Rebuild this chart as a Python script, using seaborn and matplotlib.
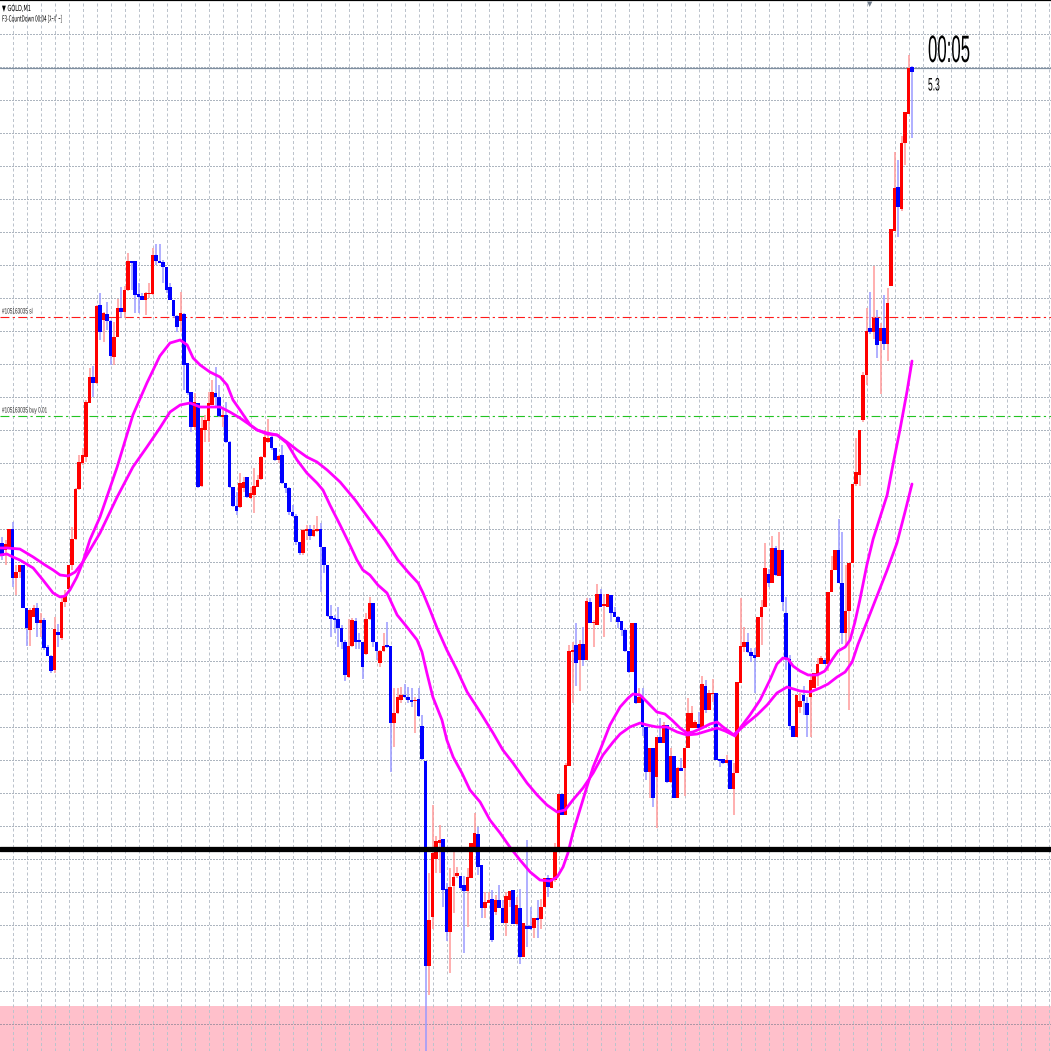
import numpy as np
import pandas as pd
import matplotlib
matplotlib.use("Agg")
import matplotlib.pyplot as plt
import seaborn as sns
from matplotlib import patheffects
from matplotlib.transforms import Affine2D

# ---------------- data (price axis is in chart rows, top = high) ----------------
opens = [
    543, 550, 548, 529, 578, 572, 565, 608, 630, 617,
    608, 623, 620, 647, 656, 670, 632, 638, 602, 589,
    565, 539, 489, 463, 457, 403, 377, 383, 305, 320,
    314, 321, 357, 337, 308, 312, 290, 261, 261, 294,
    296, 300, 294, 294, 255, 261, 262, 267, 287, 300,
    316, 321, 314, 363, 392, 427, 403, 486, 430, 421,
    405, 393, 397, 417, 415, 442, 487, 506, 507, 488,
    477, 498, 495, 487, 479, 457, 442, 437, 448, 460,
    455, 483, 488, 512, 516, 542, 553, 531, 529, 536,
    531, 529, 547, 565, 616, 618, 619, 628, 642, 677,
    646, 621, 640, 642, 654, 619, 603, 642, 663, 651,
    645, 646, 723, 713, 700, 695, 697, 700, 701, 699,
    726, 761, 966, 917, 859, 843, 839, 889, 932, 886,
    876, 876, 885, 891, 878, 847, 834, 865, 908, 903,
    899, 912, 900, 908, 923, 900, 890, 924, 908, 957,
    926, 926, 928, 918, 919, 907, 878, 888, 880, 847,
    794, 815, 766, 652, 645, 660, 644, 660, 602, 623,
    625, 594, 606, 607, 595, 612, 617, 621, 630, 651,
    672, 623, 703, 697, 727, 772, 748, 777, 737, 743,
    725, 782, 756, 798, 768, 768, 748, 728, 728, 724,
    728, 686, 710, 694, 693, 759, 759, 763, 760, 789,
    773, 683, 647, 642, 652, 655, 657, 617, 607, 574,
    583, 548, 576, 550, 613, 659, 726, 737, 707, 695,
    703, 697, 688, 675, 664, 660, 664, 592, 570, 550,
    583, 633, 611, 563, 484, 475, 420, 375, 328, 332,
    318, 341, 328, 344, 286, 231, 187, 209, 143, 114,
    67,
]
highs = [
    537, 540, 529, 522, 565, 565, 565, 608, 608, 605,
    603, 613, 618, 645, 655, 617, 624, 597, 590, 565,
    527, 488, 455, 448, 400, 368, 366, 305, 293, 312,
    302, 320, 322, 299, 287, 286, 253, 261, 261, 283,
    293, 292, 283, 248, 244, 244, 260, 267, 283, 300,
    315, 292, 313, 363, 392, 393, 403, 417, 415, 392,
    380, 367, 385, 410, 402, 441, 487, 492, 473, 477,
    477, 487, 468, 475, 456, 430, 419, 436, 448, 455,
    445, 483, 487, 505, 514, 542, 529, 525, 525, 525,
    516, 523, 547, 565, 605, 615, 607, 625, 640, 619,
    618, 618, 633, 642, 613, 597, 603, 642, 650, 633,
    622, 646, 688, 688, 687, 684, 687, 688, 697, 688,
    715, 761, 873, 805, 836, 825, 839, 883, 868, 852,
    867, 876, 876, 868, 843, 813, 827, 865, 892, 892,
    890, 895, 885, 900, 892, 891, 890, 897, 889, 923,
    840, 907, 918, 900, 899, 878, 875, 878, 843, 794,
    794, 763, 645, 642, 623, 640, 627, 598, 598, 620,
    584, 589, 594, 594, 595, 607, 616, 621, 628, 651,
    623, 623, 688, 688, 727, 748, 748, 737, 718, 722,
    725, 748, 756, 767, 758, 748, 698, 706, 720, 712,
    676, 680, 690, 679, 693, 759, 759, 755, 760, 763,
    682, 598, 627, 633, 648, 648, 617, 600, 543, 569,
    536, 546, 532, 550, 597, 655, 726, 695, 693, 686,
    697, 675, 673, 658, 656, 658, 592, 556, 550, 519,
    532, 565, 563, 484, 438, 430, 372, 308, 292, 266,
    310, 323, 295, 288, 229, 152, 160, 136, 112, 55,
    66,
]
lows = [
    560, 565, 549, 587, 595, 578, 608, 646, 646, 617,
    637, 637, 650, 656, 673, 673, 647, 640, 607, 590,
    570, 540, 490, 465, 462, 403, 397, 384, 340, 342,
    330, 365, 365, 337, 318, 318, 291, 290, 313, 313,
    300, 315, 298, 295, 265, 262, 283, 293, 300, 318,
    332, 332, 390, 395, 432, 430, 488, 487, 442, 442,
    405, 407, 417, 427, 443, 488, 507, 515, 508, 492,
    498, 499, 513, 487, 480, 458, 443, 450, 461, 463,
    484, 493, 515, 517, 545, 555, 555, 540, 540, 537,
    532, 592, 573, 617, 637, 633, 647, 649, 681, 678,
    647, 649, 649, 679, 655, 620, 647, 660, 667, 652,
    648, 772, 747, 714, 703, 698, 703, 707, 733, 717,
    760, 1051, 995, 929, 873, 873, 907, 941, 973, 913,
    878, 890, 953, 927, 878, 850, 875, 918, 918, 903,
    942, 915, 908, 923, 936, 907, 924, 925, 964, 957,
    947, 930, 938, 938, 929, 907, 897, 888, 882, 847,
    815, 815, 766, 703, 686, 691, 666, 660, 623, 647,
    625, 607, 637, 607, 622, 617, 628, 636, 652, 673,
    672, 704, 703, 736, 780, 798, 807, 828, 743, 743,
    783, 783, 798, 798, 771, 796, 748, 728, 728, 728,
    728, 713, 710, 702, 760, 767, 764, 763, 789, 815,
    773, 683, 652, 653, 662, 693, 657, 645, 607, 587,
    583, 576, 576, 611, 670, 730, 737, 737, 713, 715,
    737, 737, 688, 686, 664, 664, 671, 592, 570, 583,
    644, 647, 710, 563, 486, 486, 422, 385, 334, 339,
    358, 394, 350, 361, 286, 231, 237, 211, 165, 114,
    138,
]
closes = [
    556, 544, 529, 578, 572, 565, 608, 628, 610, 608,
    623, 620, 648, 656, 671, 629, 635, 602, 595, 565,
    539, 489, 462, 455, 402, 377, 383, 306, 332, 313,
    321, 356, 337, 308, 312, 290, 261, 263, 295, 297,
    300, 293, 293, 255, 261, 262, 267, 290, 300, 316,
    327, 313, 365, 393, 427, 402, 487, 428, 420, 403,
    392, 397, 416, 415, 442, 487, 506, 511, 483, 482,
    497, 493, 486, 480, 457, 437, 438, 448, 460, 456,
    483, 488, 512, 516, 542, 553, 530, 529, 536, 530,
    529, 547, 565, 616, 619, 620, 628, 642, 675, 646,
    620, 642, 642, 667, 619, 603, 642, 651, 651, 646,
    647, 723, 713, 697, 695, 697, 700, 702, 700, 716,
    759, 966, 920, 853, 841, 840, 890, 932, 887, 877,
    873, 888, 891, 877, 843, 833, 867, 908, 902, 900,
    940, 900, 908, 923, 896, 891, 924, 905, 957, 923,
    929, 929, 918, 919, 907, 878, 887, 878, 848, 794,
    815, 765, 651, 650, 663, 644, 660, 601, 623, 622,
    594, 607, 604, 594, 613, 617, 622, 630, 651, 672,
    623, 703, 697, 727, 772, 748, 798, 737, 743, 725,
    782, 756, 798, 768, 771, 748, 713, 713, 722, 728,
    684, 710, 693, 693, 760, 761, 763, 760, 789, 773,
    682, 646, 642, 652, 656, 658, 617, 607, 568, 583,
    548, 575, 550, 602, 659, 726, 737, 695, 701, 701,
    715, 680, 673, 664, 658, 664, 592, 570, 550, 583,
    633, 611, 563, 484, 472, 430, 375, 331, 332, 318,
    345, 328, 344, 303, 229, 188, 207, 143, 112, 68,
    72,
]

# moving averages: (bar position, value)
ma_fast_points = [
    (-0.6, 555), (1.4, 554), (3.1, 557), (5.1, 560), (8.9, 568), (11.7, 580),
    (14.6, 593), (16.6, 597), (18.0, 596), (19.4, 590), (21.4, 577), (23.1, 562),
    (25.1, 540), (28.0, 517), (32.9, 467), (37.4, 415), (41.4, 383), (45.1, 356),
    (48.0, 343), (50.9, 340), (52.9, 345), (54.6, 358), (56.6, 365), (59.4, 372),
    (62.3, 377), (64.3, 385), (66.0, 400), (68.0, 410), (70.9, 425), (72.9, 430),
    (75.7, 433), (78.6, 435), (81.4, 443), (84.3, 460), (87.1, 473), (90.0, 483),
    (91.7, 490), (93.7, 505), (96.6, 525), (99.4, 545), (101.4, 560), (103.1, 570),
    (105.1, 575), (107.4, 585), (110.0, 593), (112.9, 615), (115.7, 627), (118.6, 640),
    (120.0, 652), (121.4, 673), (123.1, 697), (125.7, 720), (127.1, 740), (128.9, 757),
    (131.4, 773), (133.7, 790), (136.6, 802), (139.4, 820), (142.3, 833), (145.1, 847),
    (148.0, 860), (150.9, 872), (153.7, 880), (156.6, 881), (158.6, 877), (160.3, 867),
    (161.7, 853), (163.1, 833), (165.1, 810), (167.1, 787), (168.9, 767), (170.9, 750),
    (173.7, 725), (176.6, 707), (178.9, 698), (180.3, 694), (182.3, 695), (184.3, 702),
    (187.1, 712), (189.4, 714), (191.4, 720), (193.7, 728), (195.7, 733), (197.4, 732),
    (200.0, 728), (202.3, 724), (204.3, 722), (206.0, 727), (208.0, 732), (209.4, 736),
    (210.9, 728), (213.7, 715), (216.6, 700), (219.4, 680), (221.4, 664), (223.1, 658),
    (224.6, 659), (226.0, 666), (228.0, 671), (230.3, 675), (232.9, 675), (235.1, 671),
    (237.1, 660), (238.9, 651), (240.9, 647), (242.3, 640), (243.7, 622), (245.1, 600),
    (247.1, 565), (248.9, 539), (250.9, 517), (252.9, 495), (254.6, 464), (256.6, 429),
    (258.6, 391), (260.0, 361),
]
ma_slow_points = [
    (-0.6, 548), (1.4, 548), (5.1, 549), (8.9, 557), (12.3, 565), (14.6, 570),
    (16.6, 575), (18.9, 576), (20.9, 572), (23.1, 562), (28.0, 533), (32.9, 497),
    (37.4, 467), (41.4, 447), (45.1, 428), (48.0, 412), (50.9, 405), (53.7, 403),
    (56.6, 407), (59.4, 407), (62.3, 407), (65.1, 412), (68.0, 418), (70.9, 425),
    (72.9, 430), (75.7, 434), (78.6, 435), (81.4, 442), (84.3, 450), (87.1, 457),
    (90.0, 462), (92.9, 470), (96.6, 482), (100.9, 500), (105.1, 520), (109.4, 540),
    (113.1, 560), (116.0, 572), (118.9, 583), (120.3, 593), (122.3, 610), (124.3, 628),
    (127.1, 650), (130.0, 670), (132.9, 692), (136.6, 712), (140.3, 733), (143.1, 750),
    (146.0, 763), (150.0, 783), (152.9, 795), (155.7, 805), (158.6, 812), (160.9, 810),
    (163.1, 800), (166.0, 788), (168.9, 773), (171.7, 755), (174.6, 742), (176.6, 734),
    (179.4, 727), (182.3, 723), (184.3, 725), (187.1, 727), (190.0, 727), (192.9, 732),
    (195.7, 735), (198.6, 734), (201.4, 731), (204.3, 728), (206.6, 731), (208.9, 735),
    (210.3, 731), (212.9, 723), (215.7, 715), (218.6, 705), (221.4, 693), (224.3, 687),
    (228.0, 691), (230.9, 692), (233.7, 688), (236.0, 684), (238.6, 677), (240.9, 672),
    (242.9, 662), (244.6, 644), (247.1, 622), (250.0, 596), (252.9, 570), (255.7, 543),
    (258.0, 512), (260.0, 484),
]

sl_level = 317
buy_level = 416
bid_level = 68
support_level = 849
zone_top = 1006
sl_label = "#105163035 sl"
buy_label = "#105163035 buy 0.01"
title_line1 = "\u25bc GOLD,M1"
title_line2 = "F3-CountDown 00:04 [\uff7d\uff70\uff8a\uff9f\uff70]"
countdown_text = "00:05"
spread_text = "5.3"

# ---------------- style ----------------
sns.set_theme(style="white")
plt.rcParams['font.family'] = ['Liberation Sans', 'DejaVu Sans', 'Noto Sans CJK JP']


class Squeeze(patheffects.AbstractPathEffect):
    """Draw text glyphs horizontally condensed (screenshot was squeezed)."""
    def __init__(self, sx):
        super().__init__()
        self.sx = sx

    def draw_path(self, renderer, gc, tpath, affine, rgbFace=None):
        renderer.draw_path(gc, tpath, Affine2D().scale(self.sx, 1.0) + affine, rgbFace)


W = H = 1051
PITCH = 3.5      # px per bar
X0 = 2.0         # px of first bar
fig = plt.figure(figsize=(W / 100, H / 100), dpi=100)
ax = fig.add_axes([0, 0, 1, 1])
ax.set_facecolor('white')
ax.set_xlim(-X0 / PITCH, (W - X0) / PITCH)
ax.set_ylim(H, 0)
ax.set_xticks([])
ax.set_yticks([])
for s in ['left', 'right', 'bottom']:
    ax.spines[s].set_visible(False)
ax.spines['top'].set_visible(True)
ax.spines['top'].set_color('black')
ax.spines['top'].set_linewidth(1.6)

# zone
ax.axhspan(zone_top, H, color='#ffc0cb', lw=0, zorder=0)

# grid
for r in np.arange(34.3, H, 33.0):
    ax.axhline(r, color='#5d6d80', lw=0.72, ls=(0, (1, 2)), zorder=0.5)
for cx in np.arange(3.06, (W - X0) / PITCH, 4.0):
    ax.axvline(cx, color='#bcc3cc', lw=0.72, ls=(0, (3, 2.5)), zorder=0.5)

# bid line and trade lines
ax.axhline(bid_level, color='#7f8fa0', lw=0.9, zorder=0.8)
ax.axhline(sl_level, color='#ff1a1a', lw=0.8, ls=(0, (8, 3, 2, 3)), zorder=0.8)
ax.axhline(buy_level, color='#22c422', lw=0.8, ls=(0, (8, 3, 2, 3)), zorder=0.8)

# candles
o = np.array(opens, float)
h = np.array(highs, float)
l = np.array(lows, float)
c = np.array(closes, float)
idx = np.arange(len(o))
up = c <= o   # rows decrease upward: close above open
body_col = np.where(up, '#ff0000', '#0000ff')
wick_col = np.where(up, '#ff9a9a', '#9a9aff')
ax.vlines(idx, h, l, colors=wick_col, lw=1.1, zorder=1)
height = c - o
height = np.where(np.abs(height) < 1.5, np.where(up, -1.5, 1.5), height)
ax.bar(idx, height, bottom=o, width=0.88, color=body_col, lw=0, zorder=2)

# moving averages
fast = pd.DataFrame(ma_fast_points, columns=['bar', 'value'])
slow = pd.DataFrame(ma_slow_points, columns=['bar', 'value'])
sns.lineplot(data=fast, x='bar', y='value', ax=ax, color='#ff00ff', lw=2.0,
             estimator=None, sort=False, zorder=3)
sns.lineplot(data=slow, x='bar', y='value', ax=ax, color='#ff00ff', lw=2.0,
             estimator=None, sort=False, zorder=3)
ax.set_xlabel('')
ax.set_ylabel('')
ax.set_ylim(H, 0)
ax.set_xlim(-X0 / PITCH, (W - X0) / PITCH)

# support line
ax.axhline(support_level, color='black', lw=3.8, zorder=4)

# texts (pixel positions)
def put(x, y, s, size, sx, color='black', family=None):
    kw = {} if family is None else {'family': family}
    ax.text(x / W, 1 - y / H, s, transform=ax.transAxes, fontsize=size,
            color=color, ha='left', va='baseline',
            path_effects=[Squeeze(sx)], zorder=6, **kw)

put(2, 11, title_line1, 6.0, 0.6, family=['DejaVu Sans', 'Noto Sans CJK JP'])
put(2, 21.5, title_line2, 6.0, 0.55, family=['Noto Sans CJK JP', 'DejaVu Sans'])
put(2, 313.5, sl_label, 5.6, 0.6, color='#2a2a2a')
put(2, 412.5, buy_label, 5.6, 0.6, color='#2a2a2a')
put(928, 62, countdown_text, 27.5, 0.44)
put(928, 90.5, spread_text, 13, 0.47)
ax.text(870 / W, 1 - 6 / H, '\u25bc', transform=ax.transAxes, fontsize=5,
        color='#6e7a88', ha='center', va='baseline', family='DejaVu Sans')

fig.savefig('out.png', dpi=100)
